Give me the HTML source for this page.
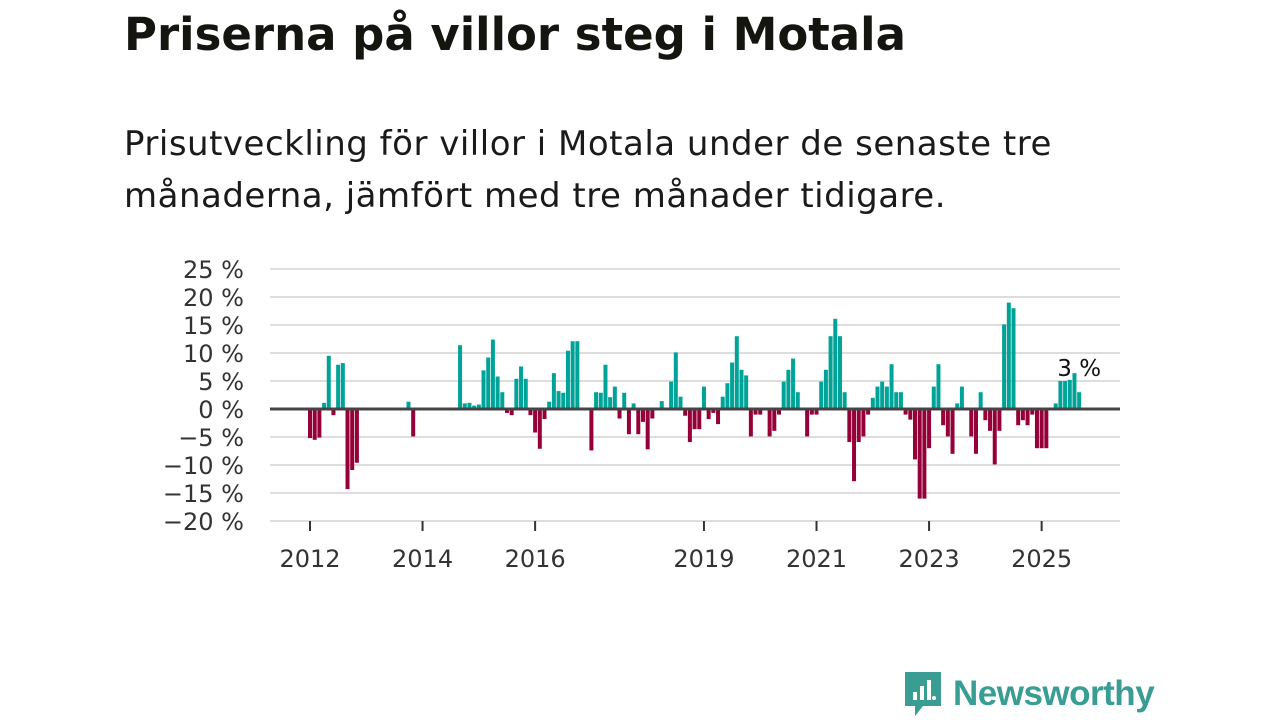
<!DOCTYPE html>
<html><head><meta charset="utf-8">
<style>
body{margin:0;width:1280px;height:720px;background:#fff;overflow:hidden;font-family:"DejaVu Sans","Liberation Sans",sans-serif;color:#111;}
h1{position:absolute;left:124px;top:8px;margin:0;font-size:45px;font-weight:bold;color:#151510;}
p{position:absolute;left:124px;top:118px;margin:0;font-size:34px;line-height:52px;letter-spacing:0.5px;color:#1a1a1a;width:1000px}
#chart{position:absolute;left:0;top:0}
.logo{position:absolute;left:903px;top:670px;display:flex;align-items:center}
.logo span{font-family:"Liberation Sans",sans-serif;font-size:35px;color:#3a9d94;font-weight:bold;margin-left:10px;letter-spacing:-0.5px}
</style></head><body>
<h1>Priserna på villor steg i Motala</h1>
<p>Prisutveckling för villor i Motala under de senaste tre<br>månaderna, jämfört med tre månader tidigare.</p>
<svg id="chart" width="1280" height="720"></svg>
<div class="logo">
<svg width="40" height="48" viewBox="0 0 40 48"><path d="M2 2h36v34H20l-8 10v-10H2z" fill="#3a9d94"/><rect x="10" y="22" width="4" height="8" fill="#fff"/><rect x="17" y="16" width="4" height="14" fill="#fff"/><rect x="24" y="10" width="4" height="20" fill="#fff"/><circle cx="31" cy="28" r="2" fill="#fff"/></svg>
<span>Newsworthy</span></div>
<script>
const values=[-5.2,-5.5,-5.1,1.1,9.5,-1.1,7.9,8.2,-14.3,-10.9,-9.6,
null,null,null,null,null,null,null,null,null,null,
1.3,-4.9,
null,null,null,null,null,null,null,null,null,
11.4,1.0,1.1,0.6,0.8,6.9,9.2,12.4,5.8,3.0,-0.7,-1.1,5.4,7.6,5.4,-1.1,-4.2,-7.1,-1.8,1.3,6.4,3.2,2.9,10.4,12.1,12.1,null,null,
-7.4,3.0,2.9,7.9,2.1,4.0,-1.7,2.9,-4.5,1.0,-4.5,-2.3,-7.2,-1.7,null,1.4,null,4.9,10.1,2.2,-1.2,-5.9,-3.6,-3.6,
4.0,-1.8,-0.7,-2.7,2.2,4.6,8.3,13.0,7.0,6.0,-4.9,-1.0,-1.0,null,-4.9,-3.9,-1.0,4.9,7.0,9.0,3.0,null,-4.9,-1.0,
-1.0,4.9,7.0,13.0,16.1,13.0,3.0,-5.9,-12.9,-5.9,-4.9,-1.0,2.0,4.0,4.9,4.0,8.0,3.0,3.0,-1.0,-1.9,-9.0,-16.0,-16.0,
-7.0,4.0,8.0,-2.9,-4.9,-8.0,1.0,4.0,null,-4.9,-8.0,3.0,-2.0,-3.9,-9.9,-3.9,15.1,19.0,18.0,-2.9,-2.0,-2.9,-1.0,-7.0,
-7.0,-7.0,null,1.0,5.0,5.0,5.2,6.4,3.0];
const yTicks=[25,20,15,10,5,0,-5,-10,-15,-20];
const yearLabels=["2012","2014","2016","2019","2021","2023","2025"];
const yearMonthIdx=[0,24,48,84,108,132,156];
const lastLabel="3 %";
const NS="http://www.w3.org/2000/svg";
const svg=document.getElementById('chart');
const FF='DejaVu Sans, Liberation Sans, sans-serif';
const x=i=>310+i*4.69;
const y=v=>409-v*5.6;
function mk(t,a){const e=document.createElementNS(NS,t);for(const k in a)e.setAttribute(k,a[k]);svg.appendChild(e);return e;}
yTicks.forEach(t=>{
 const l=mk('line',{x1:270,x2:1120,y1:y(t),y2:y(t),stroke:'#ddd','stroke-width':2});
 
 
 const tx=mk('text',{x:244,y:y(t)+9,'text-anchor':'end','font-size':24,fill:'#333','font-family':FF});
 tx.textContent=(t<0?'\u2212'+(-t):t)+' %';
 
 
});
values.forEach((v,i)=>{
 if(v===null)return;
 const r=mk('rect',{x:x(i)-2,y:Math.min(y(v),y(0)),width:4,height:Math.abs(y(v)-y(0)),fill:v>=0?'#00a397':'#960038'});
 
 
});
const z=mk('line',{x1:270,x2:1120,y1:y(0),y2:y(0),stroke:'#444','stroke-width':3});


yearLabels.forEach((lab,k)=>{
 const xx=x(yearMonthIdx[k]);
 const tk=mk('line',{x1:xx,x2:xx,y1:521,y2:531,stroke:'#333','stroke-width':2});
 
 
 const t=mk('text',{x:xx,y:567,'text-anchor':'middle','font-size':24,fill:'#333','font-family':FF});
 t.textContent=lab;
 
 
});
const li=values.length-1;
const ll=mk('text',{x:x(li),y:376,'text-anchor':'middle','font-size':23,fill:'#111',stroke:'#fff','stroke-width':4,'paint-order':'stroke','font-family':FF});
ll.textContent=lastLabel;


</script>
</body></html>
